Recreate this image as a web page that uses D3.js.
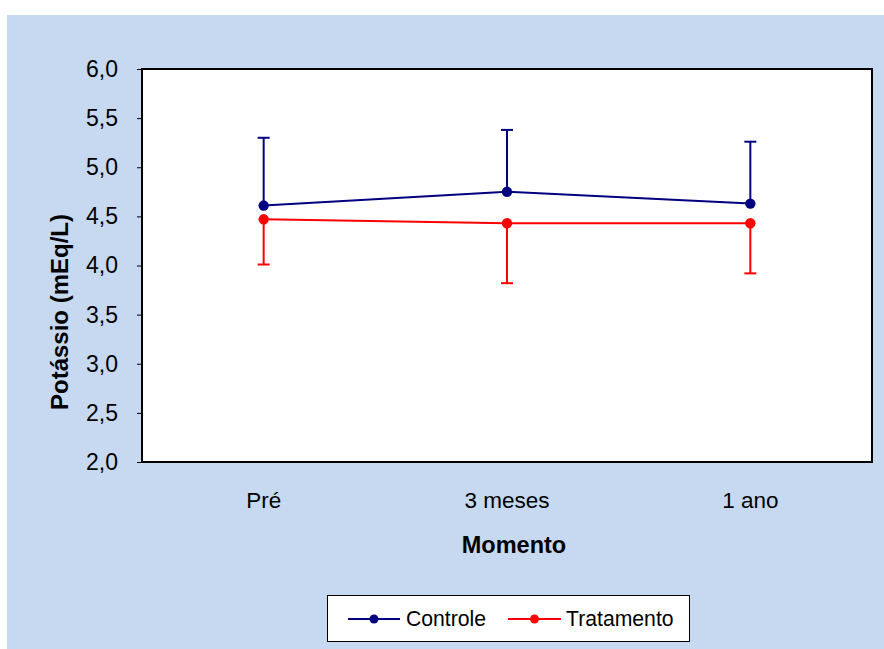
<!DOCTYPE html>
<html>
<head>
<meta charset="utf-8">
<script src="https://cdn.jsdelivr.net/npm/d3@7"></script>
<style>
  html, body { margin: 0; padding: 0; background: #ffffff; }
  svg { display: block; font-family: "Liberation Sans", Arial, sans-serif; }
</style>
</head>
<body>
<svg id="chart" width="884" height="649"></svg>
<script>
// Mean potassium (mEq/L) with one-sided SD error bars
const categories = ["Pré", "3 meses", "1 ano"];
const controleMean = [4.61, 4.75, 4.63];
const controleSD = [0.69, 0.63, 0.63];
const tratamentoMean = [4.47, 4.43, 4.43];
const tratamentoSD = [0.46, 0.61, 0.51];
const yTicks = [2.0, 2.5, 3.0, 3.5, 4.0, 4.5, 5.0, 5.5, 6.0];

const series = [
  { name: "Controle", color: "#000080", mean: controleMean, sd: controleSD, dir: 1 },
  { name: "Tratamento", color: "#ff0000", mean: tratamentoMean, sd: tratamentoSD, dir: -1 }
];

const FONT = "Liberation Sans, Arial, sans-serif";
const svg = d3.select("#chart");

// chart area background
svg.append("rect")
  .attr("x", 7).attr("y", 15)
  .attr("width", 884 - 7).attr("height", 649 - 15)
  .attr("fill", "#c6d9f0");

const plot = { left: 142, top: 69, right: 872, bottom: 462 };

const x = d3.scaleBand()
  .domain(categories)
  .range([plot.left, plot.right]);

const y = d3.scaleLinear()
  .domain([2, 6])
  .range([plot.bottom, plot.top]);

// plot area
svg.append("rect")
  .attr("x", plot.left).attr("y", plot.top)
  .attr("width", plot.right - plot.left)
  .attr("height", plot.bottom - plot.top)
  .attr("fill", "#ffffff")
  .attr("stroke", "#000000")
  .attr("stroke-width", 2);

// y axis
const yAxis = d3.axisLeft(y)
  .tickValues(yTicks)
  .tickSize(5)
  .tickPadding(19)
  .tickFormat(d => d3.format(".1f")(d).replace(".", ","));

const yg = svg.append("g")
  .attr("transform", `translate(${plot.left},0)`)
  .call(yAxis);
yg.select(".domain").remove();
yg.selectAll(".tick line").attr("stroke", "#000").attr("stroke-width", 1);
yg.selectAll(".tick text")
  .attr("font-size", 23)
  .attr("fill", "#000")
  .attr("font-family", FONT);

// x axis labels (no ticks)
const xAxis = d3.axisBottom(x).tickSize(0).tickPadding(30);
const xg = svg.append("g")
  .attr("transform", `translate(0,${plot.bottom})`)
  .call(xAxis);
xg.select(".domain").remove();
xg.selectAll(".tick text")
  .attr("font-size", 22.5)
  .attr("fill", "#000")
  .attr("font-family", FONT);

// axis titles
svg.append("text")
  .attr("x", 514)
  .attr("y", 553)
  .attr("text-anchor", "middle")
  .attr("font-size", 23.5)
  .attr("font-weight", "bold")
  .attr("font-family", FONT)
  .text("Momento");

svg.append("text")
  .attr("transform", "translate(68,312) rotate(-90)")
  .attr("text-anchor", "middle")
  .attr("font-size", 24)
  .attr("font-weight", "bold")
  .attr("font-family", FONT)
  .text("Potássio (mEq/L)");

const cx = d => x(d) + x.bandwidth() / 2;
const capHalf = 6;

series.forEach(s => {
  const g = svg.append("g");
  const pts = categories.map((c, i) => ({ c, m: s.mean[i], e: s.mean[i] + s.dir * s.sd[i] }));

  // error bars
  g.selectAll("line.err").data(pts).enter().append("line")
    .attr("x1", d => cx(d.c)).attr("x2", d => cx(d.c))
    .attr("y1", d => y(d.m)).attr("y2", d => y(d.e))
    .attr("stroke", s.color).attr("stroke-width", 2);
  g.selectAll("line.cap").data(pts).enter().append("line")
    .attr("x1", d => cx(d.c) - capHalf).attr("x2", d => cx(d.c) + capHalf)
    .attr("y1", d => y(d.e)).attr("y2", d => y(d.e))
    .attr("stroke", s.color).attr("stroke-width", 2);

  // mean line
  g.append("path")
    .datum(pts)
    .attr("fill", "none")
    .attr("stroke", s.color)
    .attr("stroke-width", 2)
    .attr("d", d3.line().x(d => cx(d.c)).y(d => y(d.m)));

  // markers
  g.selectAll("circle").data(pts).enter().append("circle")
    .attr("cx", d => cx(d.c)).attr("cy", d => y(d.m))
    .attr("r", 5.2)
    .attr("fill", s.color);
});

// legend
const legend = svg.append("g");
legend.append("rect")
  .attr("x", 327.5).attr("y", 595.5)
  .attr("width", 362).attr("height", 46)
  .attr("fill", "#ffffff")
  .attr("stroke", "#000")
  .attr("stroke-width", 1);

const legendItems = [
  { s: series[0], x0: 348, x1: 400, tx: 406 },
  { s: series[1], x0: 508, x1: 561, tx: 566 }
];
legendItems.forEach(it => {
  const ly = 619;
  legend.append("line")
    .attr("x1", it.x0).attr("x2", it.x1)
    .attr("y1", ly).attr("y2", ly)
    .attr("stroke", it.s.color).attr("stroke-width", 2);
  legend.append("circle")
    .attr("cx", (it.x0 + it.x1) / 2).attr("cy", ly)
    .attr("r", 4.5).attr("fill", it.s.color);
  legend.append("text")
    .attr("x", it.tx).attr("y", 626)
    .attr("font-size", 21.2)
    .attr("fill", "#000")
    .attr("font-family", FONT)
    .text(it.s.name);
});
</script>
</body>
</html>
